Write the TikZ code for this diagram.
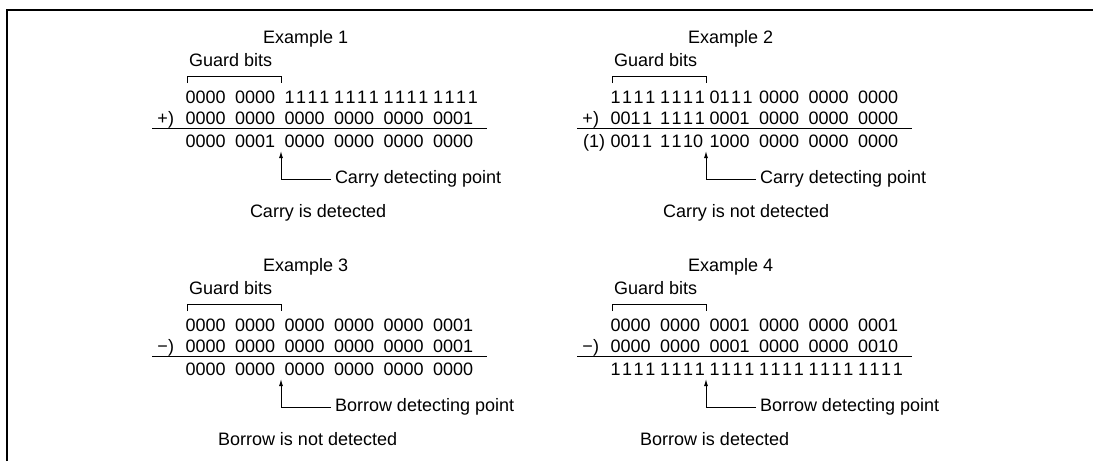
\documentclass[tikz,border=0pt]{standalone}
\usepackage{fontspec}
\setmainfont{Liberation Sans}
\usetikzlibrary{arrows.meta}
\tikzset{
  txt/.style={inner sep=0pt, outer sep=0pt, font=\fontsize{18}{21}\selectfont},
  bits/.style={txt, anchor=base west},
  thinline/.style={line width=1pt},
  rulel/.style={line width=1.3pt},
  arr/.style={line width=1pt, -{Latex[length=7pt,width=4pt]}},
  framel/.style={line width=2.2pt},
}
% typeset a group of bits; a "1" followed by another "1" gets a little extra room
\def\bdgobble#1{}
\def\bd#1#2{#1\ifx1#1\ifx1#2\kern1.6pt\fi\fi\ifx\relax#2\expandafter\bdgobble\else\expandafter\bd\fi #2}
\newcommand\bitrow[3]{%
  \foreach \g [count=\i from 0] in {#3}{
    \node[bits] (#1-\i) at ({185.5+49.5*\i},#2) {\expandafter\bd\g\relax};
  }}
\begin{document}
\begin{tikzpicture}[x=1pt,y=-1pt]
\useasboundingbox (0,0) rectangle (1093,461);
\draw[framel] (7,461) -- (7,10) -- (1093,10);

% Example 1
\begin{scope}[shift={(0,0)}]
\node[txt, anchor=base west] (t1) at (263,43) {Example 1};
\node[txt, anchor=base west] (g1) at (189,66) {Guard bits};
\draw[thinline] (187,83) -- (187,76) -- (281,76) -- (281,83);
\bitrow{e1a}{103}{0000,0000,1111,1111,1111,1111}
\node[txt, anchor=base east] (op1) at (174,124.5) {+)};
\bitrow{e1b}{124.5}{0000,0000,0000,0000,0000,0001}
\draw[rulel] (152,128.5) -- (487,128.5);
\bitrow{e1c}{147.5}{0000,0001,0000,0000,0000,0000}
\node[txt, anchor=west] (d1) at (335,179) {Carry detecting point};
\coordinate (tip1) at (281,151);
\draw[arr] ([xshift=-4pt]d1.west) -| (tip1);
\node[txt, anchor=base west] (c1) at (250,217) {Carry is detected};
\end{scope}

% Example 2
\begin{scope}[shift={(425,0)}]
\node[txt, anchor=base west] (t2) at (263,43) {Example 2};
\node[txt, anchor=base west] (g2) at (189,66) {Guard bits};
\draw[thinline] (187,83) -- (187,76) -- (281,76) -- (281,83);
\bitrow{e2a}{103}{1111,1111,0111,0000,0000,0000}
\node[txt, anchor=base east] (op2) at (174,124.5) {+)};
\bitrow{e2b}{124.5}{0011,1111,0001,0000,0000,0000}
\draw[rulel] (152,128.5) -- (487,128.5);
\node[txt, anchor=base east] (k2) at (180,147.5) {(1)};
\bitrow{e2c}{147.5}{0011,1110,1000,0000,0000,0000}
\node[txt, anchor=west] (d2) at (335,179) {Carry detecting point};
\coordinate (tip2) at (281,151);
\draw[arr] ([xshift=-4pt]d2.west) -| (tip2);
\node[txt, anchor=base west] (c2) at (238,217) {Carry is not detected};
\end{scope}

% Example 3
\begin{scope}[shift={(0,228)}]
\node[txt, anchor=base west] (t3) at (263,43) {Example 3};
\node[txt, anchor=base west] (g3) at (189,66) {Guard bits};
\draw[thinline] (187,83) -- (187,76) -- (281,76) -- (281,83);
\bitrow{e3a}{103}{0000,0000,0000,0000,0000,0001}
\node[txt, anchor=base east] (op3) at (174,124.5) {−)};
\bitrow{e3b}{124.5}{0000,0000,0000,0000,0000,0001}
\draw[rulel] (152,128.5) -- (487,128.5);
\bitrow{e3c}{147.5}{0000,0000,0000,0000,0000,0000}
\node[txt, anchor=west] (d3) at (335,179) {Borrow detecting point};
\coordinate (tip3) at (281,151);
\draw[arr] ([xshift=-4pt]d3.west) -| (tip3);
\node[txt, anchor=base west] (c3) at (218,217) {Borrow is not detected};
\end{scope}

% Example 4
\begin{scope}[shift={(425,228)}]
\node[txt, anchor=base west] (t4) at (263,43) {Example 4};
\node[txt, anchor=base west] (g4) at (189,66) {Guard bits};
\draw[thinline] (187,83) -- (187,76) -- (281,76) -- (281,83);
\bitrow{e4a}{103}{0000,0000,0001,0000,0000,0001}
\node[txt, anchor=base east] (op4) at (174,124.5) {−)};
\bitrow{e4b}{124.5}{0000,0000,0001,0000,0000,0010}
\draw[rulel] (152,128.5) -- (487,128.5);
\bitrow{e4c}{147.5}{1111,1111,1111,1111,1111,1111}
\node[txt, anchor=west] (d4) at (335,179) {Borrow detecting point};
\coordinate (tip4) at (281,151);
\draw[arr] ([xshift=-4pt]d4.west) -| (tip4);
\node[txt, anchor=base west] (c4) at (215,217) {Borrow is detected};
\end{scope}
\end{tikzpicture}
\end{document}
